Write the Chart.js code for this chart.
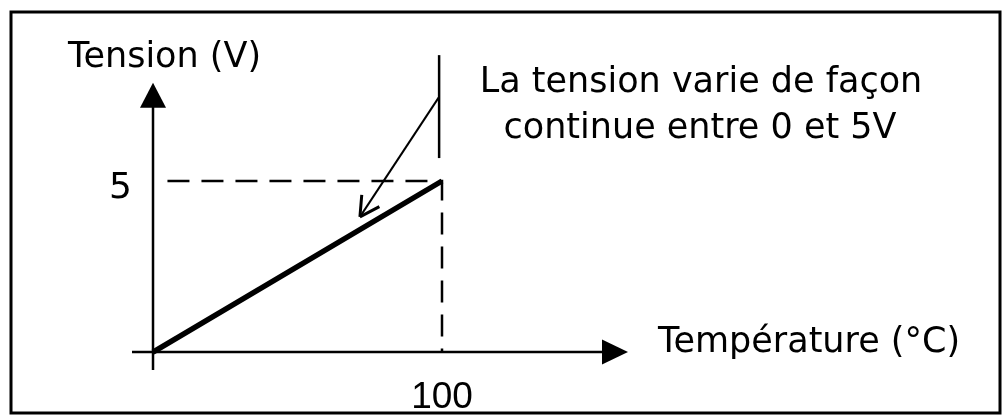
<!DOCTYPE html>
<html>
<head>
<meta charset="utf-8">
<script src="https://cdn.jsdelivr.net/npm/chart.js@4"></script>
<style>
  body { margin: 0; background: #fff; }
  canvas { display: block; }
</style>
</head>
<body>
<canvas id="capteur" width="1003" height="416"></canvas>
<script>
// data
const temperature = [0, 100]
const tension = [0, 5]
const xTicks = [100]
const yTicks = [5]
const guideStartX = 5
const markerX = 99
const markerRange = [5.67, 8.68]
const noteFrom = { x: 99, y: 7.46 }
const noteTo = { x: 71.6, y: 3.95 }
const yAxisEnd = 7.87

const yLabel = 'Tension (V)'
const xLabel = 'Température (°C)'
const noteLines = ['La tension varie de façon', 'continue entre 0 et 5V']

const FONT = '35px "DejaVu Sans"'

const sketchPlugin = {
    id: 'sketch',
    beforeDraw(chart) {
        const ctx = chart.ctx
        ctx.save()
        ctx.strokeStyle = '#000'
        ctx.lineWidth = 3
        ctx.strokeRect(11, 12, 989, 401)
        ctx.restore()
    },
    afterDatasetsDraw(chart) {
        const { ctx, chartArea, scales: { x, y } } = chart
        const x0 = x.getPixelForValue(0)
        const y0 = y.getPixelForValue(0)
        const xTip = x.getPixelForValue(x.max)
        const yTip = y.getPixelForValue(yAxisEnd)
        ctx.save()
        ctx.strokeStyle = '#000'
        ctx.fillStyle = '#000'
        ctx.lineWidth = 2.5

        // axes
        ctx.beginPath()
        ctx.moveTo(chartArea.left, y0)
        ctx.lineTo(xTip - 20, y0)
        ctx.moveTo(x0, chartArea.bottom)
        ctx.lineTo(x0, yTip + 20)
        ctx.stroke()

        // arrow heads
        ctx.beginPath()
        ctx.moveTo(xTip, y0)
        ctx.lineTo(xTip - 26, y0 - 12.5)
        ctx.lineTo(xTip - 26, y0 + 12.5)
        ctx.closePath()
        ctx.fill()
        ctx.beginPath()
        ctx.moveTo(x0, yTip)
        ctx.lineTo(x0 - 13, yTip + 25)
        ctx.lineTo(x0 + 13, yTip + 25)
        ctx.closePath()
        ctx.fill()

        // open head on the note arrow
        const fx = x.getPixelForValue(noteFrom.x), fy = y.getPixelForValue(noteFrom.y)
        const tx = x.getPixelForValue(noteTo.x), ty = y.getPixelForValue(noteTo.y)
        const ang = Math.atan2(ty - fy, tx - fx)
        ctx.lineWidth = 3
        ctx.beginPath()
        for (const d of [-0.5, 0.5]) {
            ctx.moveTo(tx, ty)
            ctx.lineTo(tx - 22 * Math.cos(ang + d), ty - 22 * Math.sin(ang + d))
        }
        ctx.stroke()

        // texts
        ctx.font = FONT
        ctx.textBaseline = 'alphabetic'
        ctx.textAlign = 'left'
        ctx.fillText(yLabel, 68, 67)
        ctx.fillText(xLabel, 658, 352)
        ctx.textAlign = 'center'
        ctx.fillText(noteLines[0], 701, 92)
        ctx.fillText(noteLines[1], 700, 138)
        ctx.restore()
    }
}

const ctx = document.getElementById('capteur')
new Chart(ctx, {
    type: 'line',
    data: {
        datasets: [{
            data: temperature.map((t, i) => ({ x: t, y: tension[i] })),
            borderColor: '#000',
            borderWidth: 5.5,
            pointRadius: 0,
        }, {
            data: [
                { x: guideStartX, y: tension[1] },
                { x: temperature[1], y: tension[1] },
                { x: temperature[1], y: 0 },
            ],
            borderColor: '#000',
            borderWidth: 2.5,
            borderDash: [22, 12],
            pointRadius: 0,
        }, {
            data: [{ x: markerX, y: markerRange[0] }, { x: markerX, y: markerRange[1] }],
            borderColor: '#000',
            borderWidth: 2.5,
            pointRadius: 0,
        }, {
            data: [noteFrom, noteTo],
            borderColor: '#000',
            borderWidth: 2,
            pointRadius: 0,
        }]
    },
    options: {
        responsive: false,
        animation: false,
        events: [],
        layout: { padding: { left: 10, top: 50, right: 375, bottom: 0 } },
        plugins: { legend: { display: false }, tooltip: { enabled: false } },
        scales: {
            x: {
                type: 'linear',
                min: -7.27,
                max: 164.36,
                grid: { display: false, drawTicks: false },
                border: { display: false },
                afterBuildTicks: s => { s.ticks = xTicks.map(v => ({ value: v })) },
                afterFit: s => { s.height = 46 },
                ticks: {
                    color: '#000',
                    padding: 6,
                    font: { family: 'Liberation Sans', size: 37 },
                }
            },
            y: {
                type: 'linear',
                min: -0.526,
                max: 8.83,
                grid: { display: false, drawTicks: false },
                border: { display: false },
                afterBuildTicks: s => { s.ticks = yTicks.map(v => ({ value: v })) },
                afterFit: s => { s.width = 122 },
                ticks: {
                    color: '#000',
                    padding: 0,
                    labelOffset: 8,
                    font: { family: 'DejaVu Sans', size: 36 },
                }
            }
        }
    },
    plugins: [sketchPlugin]
})
</script>
</body>
</html>
